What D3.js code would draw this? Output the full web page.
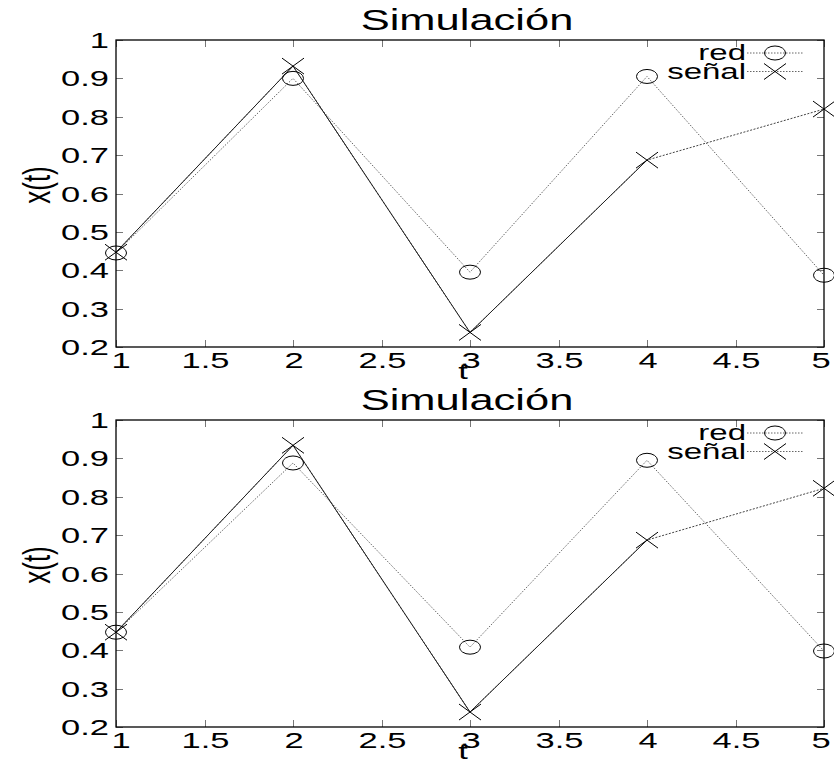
<!DOCTYPE html>
<html>
<head>
<meta charset="utf-8">
<script src="https://cdn.jsdelivr.net/npm/d3@7"></script>
<style>
  body { margin: 0; background: #fff; }
  svg text { font-family: "Liberation Sans", Arial, Helvetica, sans-serif; fill: #000; }
</style>
</head>
<body>
<div id="chart"></div>
<script>
'use strict';

// Datos
const tiempo = [1, 2, 3, 4, 5];
const redArriba = [0.445, 0.90, 0.395, 0.905, 0.387];
const senalArriba = [0.447, 0.932, 0.238, 0.687, 0.82];
const redAbajo = [0.447, 0.888, 0.408, 0.895, 0.398];
const senalAbajo = [0.447, 0.934, 0.239, 0.687, 0.822];
const ultimoEntrenamiento = 4; // la señal es continua hasta t=4
const ticksX = [1, 1.5, 2, 2.5, 3, 3.5, 4, 4.5, 5];
const ticksY = [0.2, 0.3, 0.4, 0.5, 0.6, 0.7, 0.8, 0.9, 1];
const titulo = 'Simulación';
const etiquetaX = 't';
const etiquetaY = 'x(t)';
const leyenda = ['red', 'señal'];

const width = 834, height = 760;
const margins = { left: 116, right: 10 };
const panelHeight = 307;
// the original figure is stretched sideways, text included
const stretch = 1.5;

const svg = d3.select('#chart').append('svg')
    .attr('width', width)
    .attr('height', height);

const scaleX = d3.scaleLinear()
    .domain([1, 5])
    .range([margins.left, width - margins.right]);

function wideText(g, x, y, txt, size, anchor) {
    return g.append('text')
        .attr('transform', `translate(${x}, ${y}) scale(${stretch}, 1)`)
        .attr('text-anchor', anchor)
        .style('font-size', size + 'px')
        .text(txt);
}

function circleMark(g, x, y) {
    g.append('ellipse')
        .attr('cx', x).attr('cy', y)
        .attr('rx', 10.5).attr('ry', 7)
        .attr('fill', 'none').attr('stroke', '#000').attr('stroke-width', 1);
}

function crossMark(g, x, y) {
    g.append('path')
        .attr('d', `M${x - 11},${y - 8}L${x + 11},${y + 8}M${x - 11},${y + 8}L${x + 11},${y - 8}`)
        .attr('fill', 'none').attr('stroke', '#000').attr('stroke-width', 1);
}

function drawPanel(top, red, senal) {
    const bottom = top + panelHeight;
    const scaleY = d3.scaleLinear().domain([0.2, 1]).range([bottom, top]);
    const g = svg.append('g');

    // ticks on all four sides (inward)
    const tickLen = 7;
    const ticks = g.append('g').attr('stroke', '#777').attr('stroke-width', 1);
    ticksX.forEach(t => {
        const x = Math.round(scaleX(t)) + 0.5;
        ticks.append('line').attr('x1', x).attr('x2', x).attr('y1', bottom).attr('y2', bottom - tickLen);
        ticks.append('line').attr('x1', x).attr('x2', x).attr('y1', top).attr('y2', top + tickLen);
    });
    ticksY.forEach(v => {
        const y = Math.round(scaleY(v)) + 0.5;
        ticks.append('line').attr('x1', scaleX(1)).attr('x2', scaleX(1) + tickLen).attr('y1', y).attr('y2', y);
        ticks.append('line').attr('x1', scaleX(5)).attr('x2', scaleX(5) - tickLen).attr('y1', y).attr('y2', y);
    });

    // box
    g.append('rect')
        .attr('x', scaleX(1)).attr('y', top)
        .attr('width', scaleX(5) - scaleX(1)).attr('height', panelHeight)
        .attr('fill', 'none').attr('stroke', '#000').attr('stroke-width', 1.3);

    // tick labels
    ticksX.forEach(d => {
        const dx = d === 1 ? 5 : (d === 5 ? -3 : 1);
        wideText(g, scaleX(d) + dx, bottom + 21, String(d), 23, 'middle');
    });
    ticksY.forEach(d => {
        wideText(g, scaleX(1) - 7, scaleY(d) + 8, String(d), 23, 'end');
    });

    // titles
    const midX = (scaleX(1) + scaleX(5)) / 2;
    wideText(g, midX - 3, top - 10, titulo, 29, 'middle');
    wideText(g, midX - 7, bottom + 32, etiquetaX, 23, 'middle');

    g.append('text')
        .attr('transform', `translate(50, ${top + 145}) scale(${stretch}, 1) rotate(-90)`)
        .attr('text-anchor', 'middle')
        .style('font-size', '26px')
        .text(etiquetaY);

    // lines
    const line = d3.line().x(d => scaleX(d[0])).y(d => scaleY(d[1]));
    const redPts = tiempo.map((t, i) => [t, red[i]]);
    const senalPts = tiempo.map((t, i) => [t, senal[i]]);

    g.append('path').attr('d', line(redPts))
        .attr('fill', 'none').attr('stroke', '#666').attr('stroke-width', 1)
        .attr('stroke-dasharray', '1.5,1.5');

    g.append('path').attr('d', line(senalPts))
        .attr('fill', 'none').attr('stroke', '#444').attr('stroke-width', 1)
        .attr('stroke-dasharray', '2,1.5');

    g.append('path').attr('d', line(senalPts.filter(d => d[0] <= ultimoEntrenamiento)))
        .attr('fill', 'none').attr('stroke', '#222').attr('stroke-width', 1);

    redPts.forEach(d => circleMark(g, scaleX(d[0]), scaleY(d[1])));
    senalPts.forEach(d => crossMark(g, scaleX(d[0]), scaleY(d[1])));

    // legend
    const legX = 747, legEnd = 803, legMid = 775;
    leyenda.forEach((lab, i) => {
        const y = top + 13 + i * 18.5;
        wideText(g, legX - 1, y + 7, lab, 22, 'end');
        g.append('line')
            .attr('x1', legX).attr('x2', legEnd).attr('y1', y).attr('y2', y)
            .attr('stroke', '#666').attr('stroke-width', 1)
            .attr('stroke-dasharray', '1.5,1.5');
        if (i === 0) circleMark(g, legMid, y);
        else crossMark(g, legMid, y);
    });
}

drawPanel(40, redArriba, senalArriba);
drawPanel(420, redAbajo, senalAbajo);
</script>
</body>
</html>
